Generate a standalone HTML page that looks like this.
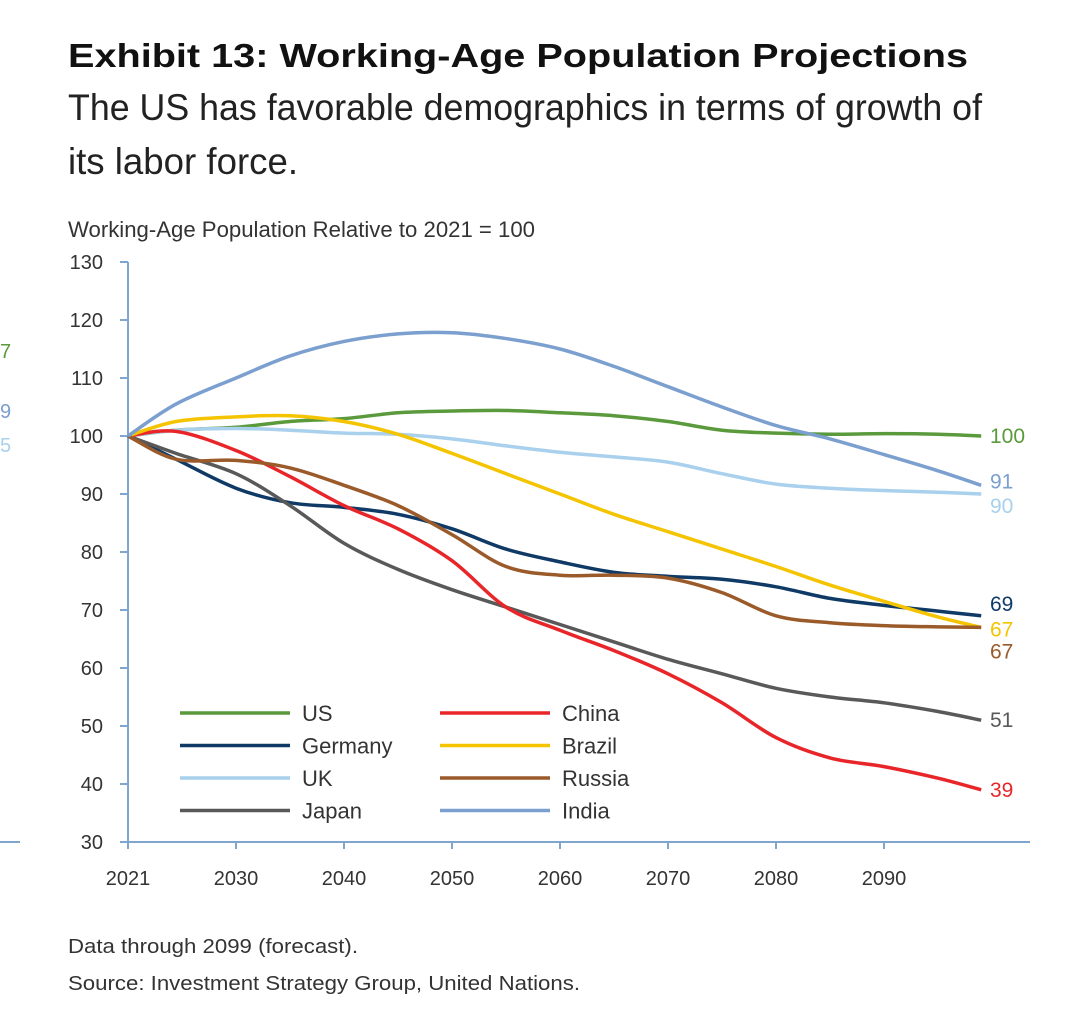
<!DOCTYPE html>
<html><head><meta charset="utf-8"><style>
html,body{margin:0;padding:0;background:#fff;}
svg{display:block;}
text{font-family:"Liberation Sans Narrow","Liberation Sans",sans-serif;}
</style></head><body>
<svg id="chart" width="1080" height="1009" viewBox="0 0 1080 1009">
<text x="68" y="67" font-size="33" font-weight="bold" fill="#111" textLength="900" lengthAdjust="spacingAndGlyphs" style="font-family:'Liberation Sans',sans-serif">Exhibit 13: Working-Age Population Projections</text>
<text x="68" y="120" font-size="37" fill="#222" textLength="914" lengthAdjust="spacingAndGlyphs">The US has favorable demographics in terms of growth of</text>
<text x="68" y="174" font-size="37" fill="#222" textLength="230" lengthAdjust="spacingAndGlyphs">its labor force.</text>
<text x="68" y="237" font-size="22" fill="#333" textLength="467" lengthAdjust="spacingAndGlyphs">Working-Age Population Relative to 2021 = 100</text>
<text x="0" y="358" font-size="20" fill="#5a9a3c">7</text>
<text x="0" y="418" font-size="20" fill="#7b9fcf">9</text>
<text x="0" y="452" font-size="20" fill="#a9d0ec">5</text>
<line x1="0" y1="842" x2="20" y2="842" stroke="#7fa6cf" stroke-width="2"/>
<g id="axes"></g>
<g id="lines"></g>
<g id="legend"></g>
<text x="68" y="953" font-size="20" fill="#333" textLength="290" lengthAdjust="spacingAndGlyphs">Data through 2099 (forecast).</text>
<text x="68" y="990" font-size="20" fill="#333" textLength="512" lengthAdjust="spacingAndGlyphs">Source: Investment Strategy Group, United Nations.</text>
</svg>
<script>
const years = [2021,2025,2030,2035,2040,2045,2050,2055,2060,2065,2070,2075,2080,2085,2090,2095,2099];
const usVals = [100,101,101.5,102.5,103,104,104.3,104.4,104,103.5,102.5,101,100.5,100.3,100.4,100.3,100];
const germanyVals = [100,96,91,88.5,87.7,86.5,84,80.5,78.3,76.5,75.8,75.3,74,72,70.8,69.8,69];
const ukVals = [100,101,101.3,101,100.5,100.3,99.5,98.3,97.2,96.4,95.5,93.5,91.7,91,90.6,90.3,90];
const japanVals = [100,97,93.5,88,81.5,77,73.5,70.5,67.5,64.5,61.5,59,56.5,55,54,52.5,51];
const chinaVals = [100,100.8,97.5,93,88,84,78.5,70.5,66.5,63,59,54,48,44.5,43,41,39];
const brazilVals = [100,102.5,103.3,103.5,102.5,100.3,97,93.5,90,86.5,83.5,80.5,77.5,74.3,71.5,68.8,67];
const russiaVals = [100,96,95.8,94.5,91.5,88,83,77.5,76,76,75.5,73,69,67.8,67.3,67.1,67];
const indiaVals = [100,105.5,110,113.8,116.3,117.6,117.8,116.8,115,112,108.5,105,101.8,99.5,96.8,94,91.5];
const seriesNames = ["US","Germany","UK","Japan","China","Brazil","Russia","India"];
const endLabels = ["100","69","90","51","39","67","67","91"];
const yTicks = [30,40,50,60,70,80,90,100,110,120,130];
const xTicks = [2021,2030,2040,2050,2060,2070,2080,2090];

const colors = ["#5a9a3c","#0f3a66","#a9d0ec","#595959","#e8262a","#f5c400","#9b5a2a","#7b9fcf"];
const allVals = [usVals,germanyVals,ukVals,japanVals,chinaVals,brazilVals,russiaVals,indiaVals];
const NS="http://www.w3.org/2000/svg";
function X(yr){ return yr<=2030 ? 128+(yr-2021)*12 : 236+(yr-2030)*10.8; }
function Y(v){ return 842-(v-30)*5.8; }
function mk(tag,attrs,parent){const e=document.createElementNS(NS,tag);for(const k in attrs)e.setAttribute(k,attrs[k]);parent.appendChild(e);return e;}
const axes=document.getElementById('axes');
let a=mk('line',{x1:128,y1:262,x2:128,y2:842,stroke:'#7fa6cf','stroke-width':2},axes);


a=mk('line',{x1:128,y1:842,x2:1030,y2:842,stroke:'#7fa6cf','stroke-width':2},axes);


yTicks.forEach(v=>{
 const t=mk('line',{x1:120,x2:128,y1:Y(v),y2:Y(v),stroke:'#7fa6cf','stroke-width':2},axes);
 
 
 const l=mk('text',{x:103,y:Y(v)+7,'text-anchor':'end','font-size':20,fill:'#333'},axes);
 l.textContent=v;
 
 
});
xTicks.forEach(v=>{
 const t=mk('line',{x1:X(v),x2:X(v),y1:842,y2:849,stroke:'#7fa6cf','stroke-width':2},axes);
 
 
 const l=mk('text',{x:X(v),y:885,'text-anchor':'middle','font-size':20,fill:'#333'},axes);
 l.textContent=v;
 
 
});
function smooth(pts){
 let d=`M${pts[0][0]},${pts[0][1]}`;
 for(let i=0;i<pts.length-1;i++){
  const p0=pts[Math.max(0,i-1)],p1=pts[i],p2=pts[i+1],p3=pts[Math.min(pts.length-1,i+2)];
  const c1=[p1[0]+(p2[0]-p0[0])/6,p1[1]+(p2[1]-p0[1])/6];
  const c2=[p2[0]-(p3[0]-p1[0])/6,p2[1]-(p3[1]-p1[1])/6];
  d+=` C${c1[0]},${c1[1]} ${c2[0]},${c2[1]} ${p2[0]},${p2[1]}`;
 }
 return d;
}
const lines=document.getElementById('lines');
allVals.forEach((vals,i)=>{
 const pts=years.map((y,j)=>[X(y),Y(vals[j])]);
 const p=mk('path',{d:smooth(pts),fill:'none',stroke:colors[i],'stroke-width':3.5,'stroke-linejoin':'round'},lines);
 
 
});
const endY=allVals.map(v=>Y(v[v.length-1]));
const nudge={1:-12,2:12,5:2,6:24,7:-4};
allVals.forEach((vals,i)=>{
 const l=mk('text',{x:990,y:endY[i]+7+(nudge[i]||0),'font-size':21,fill:colors[i]},lines);
 l.textContent=endLabels[i];
 
 
});
const legend=document.getElementById('legend');
seriesNames.forEach((n,i)=>{
 const col=Math.floor(i/4),row=i%4;
 const x0=col?440:180, y0=713+row*32.5;
 const g=mk('g',{},legend);
 
 
 mk('line',{x1:x0,x2:x0+110,y1:y0,y2:y0,stroke:colors[i],'stroke-width':3.5},g);
 const t=mk('text',{x:x0+122,y:y0+8,'font-size':22,fill:'#333'},g);
 t.textContent=n;
});
</script>
</body></html>
